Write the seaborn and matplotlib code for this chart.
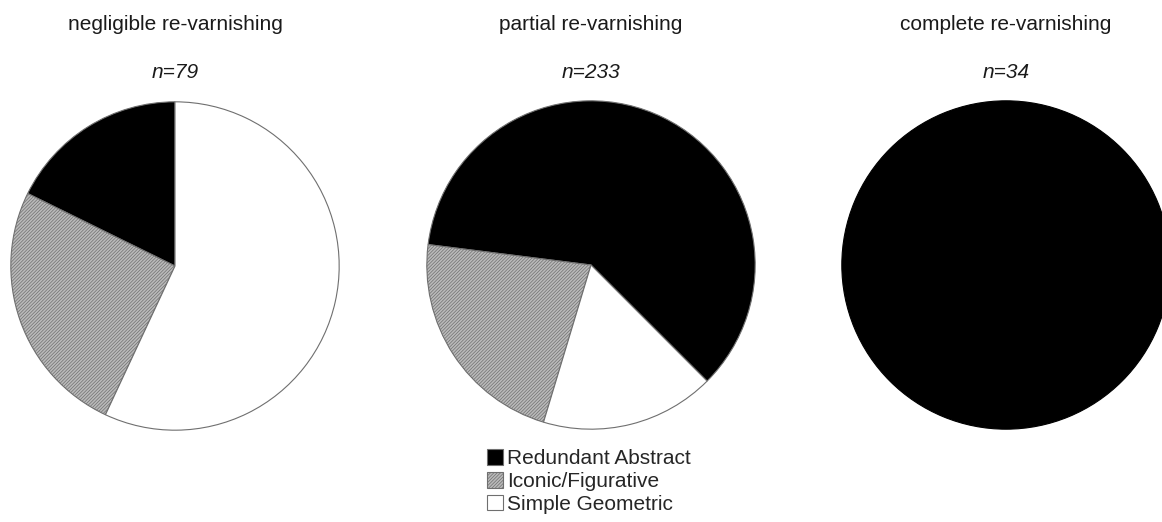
import numpy as np
import matplotlib
matplotlib.use('Agg')
import matplotlib.pyplot as plt
import seaborn as sns

sns.set_theme(style='white')
plt.rcParams.update({
    'font.family': ['Liberation Sans', 'DejaVu Sans'],
    'font.size': 15,
    'hatch.linewidth': 0.5,
})

# data
categories = ["Redundant Abstract", "Iconic/Figurative", "Simple Geometric"]
panel_titles = ["negligible re-varnishing", "partial re-varnishing", "complete re-varnishing"]
negligible_counts = [14, 20, 45]
partial_counts = [141, 52, 40]
complete_counts = [34, 0, 0]
start_angles = [90, -45, 90]

face_colors = ['black', '#bababa', 'white']
hatches = [None, '//////////', None]

W, H = 1162, 522
R = 165  # pie radius in px
centers = [(175, 266), (591, 265), (1006, 265)]

fig = plt.figure(figsize=(W / 100, H / 100), dpi=100)

wedge_sets = []
for counts, title, start, (cx, cy) in zip(
        [negligible_counts, partial_counts, complete_counts],
        panel_titles, start_angles, centers):
    ax = fig.add_axes([(cx - R) / W, (H - cy - R) / H, 2 * R / W, 2 * R / H])
    keep = [i for i, c in enumerate(counts) if c > 0]
    vals = [counts[i] for i in keep]
    wedges, _ = ax.pie(vals, colors=[face_colors[i] for i in keep],
                       startangle=start, counterclock=True, radius=1,
                       wedgeprops=dict(edgecolor='#6f6f6f' if len(vals) > 1 else 'black',
                                       linewidth=0.8))
    for w, i in zip(wedges, keep):
        if hatches[i]:
            w.set_hatch(hatches[i])
    ax.set_xlim(-1.005, 1.005)
    ax.set_ylim(-1.005, 1.005)
    ax.set_aspect('equal')
    ax.axis('off')
    wedge_sets.append(wedges)

    fig.text(cx / W, 1 - 25 / H, title, ha='center', va='center',
             fontsize=15, color='#1a1a1a')
    fig.text(cx / W, 1 - 72 / H, f"n={sum(counts)}", ha='center', va='center',
             fontsize=15, style='italic', color='#1a1a1a')

fig.legend(wedge_sets[1], categories, loc='upper left',
           bbox_to_anchor=(487 / W, 1 - 449 / H), frameon=False,
           borderaxespad=0, borderpad=0, fontsize=15,
           handlelength=0.77, handleheight=0.77, handletextpad=0.2,
           labelspacing=0.19)

fig.savefig('out.png', dpi=100)
